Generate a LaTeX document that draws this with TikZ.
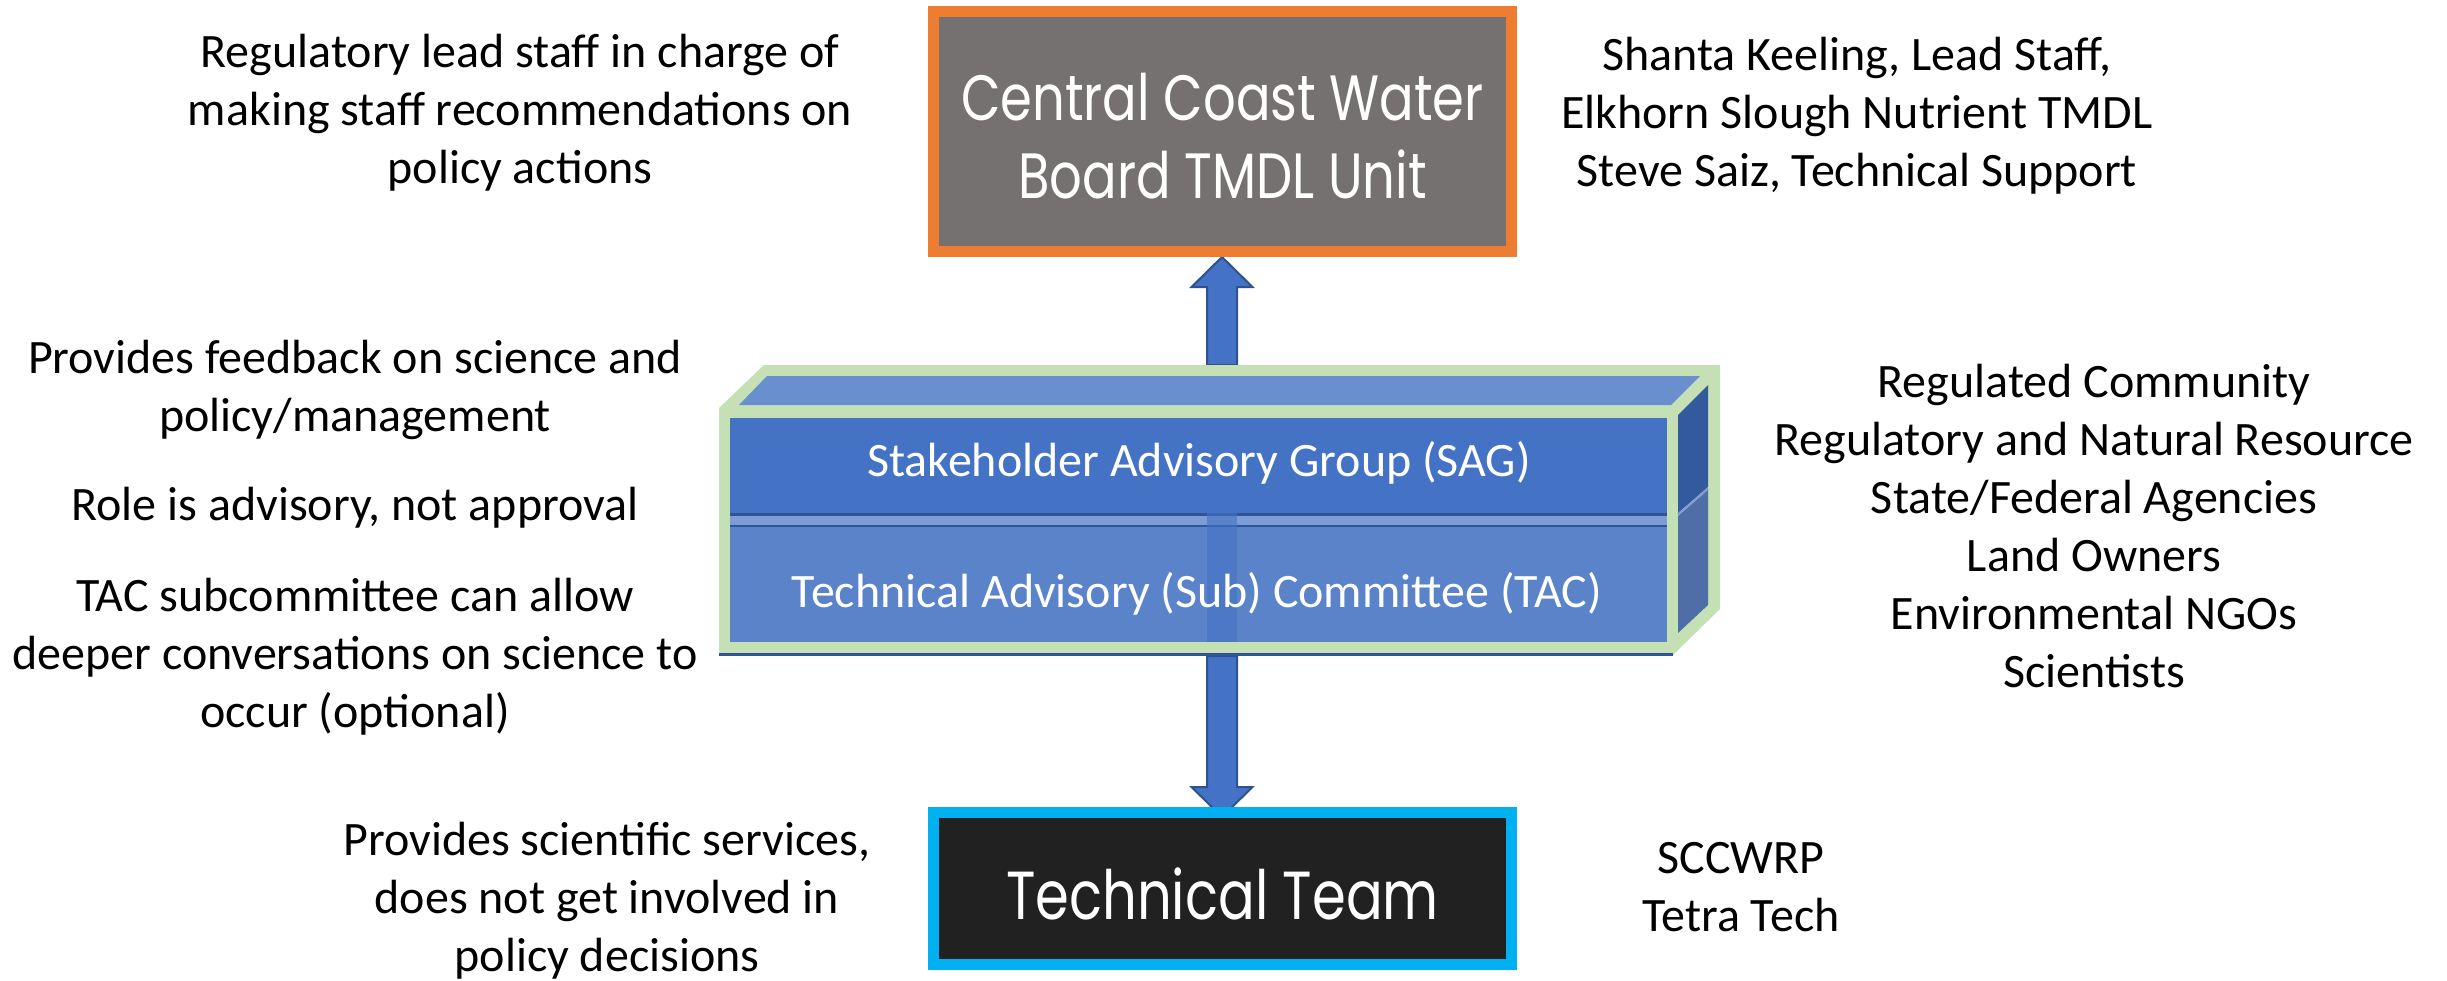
\documentclass[tikz,border=0pt]{standalone}
\usepackage{fontspec}
\setmainfont{Carlito}
\newfontfamily\titlefont[FakeStretch=0.8]{Poppins}
\usetikzlibrary{calc}
\pgfdeclarelayer{bg}
\pgfsetlayers{bg,main}
\definecolor{cOrange}{HTML}{ED7D31}
\definecolor{cGray}{HTML}{767171}
\definecolor{cCyan}{HTML}{00B0F0}
\definecolor{cDark}{HTML}{212121}
\definecolor{cBlue}{HTML}{4472C4}
\definecolor{cBlueLine}{HTML}{2F528F}
\definecolor{cGreen}{HTML}{C5E0B4}
\definecolor{cTop}{HTML}{6A8FCE}
\definecolor{cTac}{HTML}{5B83C9}
\definecolor{cBand}{HTML}{7C9DD5}
\definecolor{cDarkLine}{HTML}{2F5597}
\definecolor{cSideUp}{HTML}{345A9E}
\definecolor{cSideLow}{HTML}{4F6EA8}
\newcommand{\vblockarrow}[2]{%
  \path[blockarrow] let \p1=(#1), \p2=(#2), \n1={sign(\y2-\y1)} in
    (\x1-7.5pt,\y1) -- (\x1-7.5pt,\y2-\n1*15pt) -- (\x1-15.25pt,\y2-\n1*15pt)
    -- (\x1,\y2) -- (\x1+15.25pt,\y2-\n1*15pt) -- (\x1+7.5pt,\y2-\n1*15pt)
    -- (\x1+7.5pt,\y1) -- cycle;}
\begin{document}
\begin{tikzpicture}[x=0.5pt,y=-0.5pt,
  blockarrow/.style={fill=cBlue,draw=cBlueLine,line width=1pt,line join=miter},
  titlebox/.style={minimum width=289pt,line width=5.5pt,inner sep=0pt,text=white,align=center},
  sidetext/.style={align=center,font=\fontsize{24pt}{29pt}\selectfont,text=black,inner sep=0pt},
  facetext/.style={font=\fontsize{24pt}{29pt}\selectfont,text=white,inner sep=0pt}]
\useasboundingbox (0,0) rectangle (2447,980);

% ---- top box ----
\node[titlebox,minimum height=120pt,fill=cGray,draw=cOrange] (ccwb) at (1222.5,131.5) {};
\node[font=\titlefont\fontsize{32pt}{39pt}\selectfont,text=white,align=center,inner sep=0pt]
  (ccwbtext) at (1222.5,136) {Central Coast Water\\Board TMDL Unit};

% ---- 3D box ----
\fill[cGreen] (719,408) -- (764,365) -- (1720,365) -- (1720,609) -- (1673,655) -- (719,655) -- cycle;
\fill[cTop] (739,405) -- (767,376) -- (1700,376) -- (1671,405) -- cycle;
\fill[cSideUp] (1678,415) -- (1708,385) -- (1708,487) -- (1678,513) -- cycle;
\fill[cSideLow] (1678,516) -- (1708,490) -- (1708,605) -- (1678,633) -- cycle;
\draw[cBand,line width=1pt] (1678,514.5) -- (1708,488.5);
\fill[cBlue] (730,418) rectangle (1667,513);
\fill[cDarkLine] (730,513) rectangle (1667,516);
\fill[cBand] (730,516) rectangle (1667,525);
\fill[cDarkLine] (730,525) rectangle (1667,527);
\fill[cTac] (730,527) rectangle (1667,642);
\fill[cDarkLine] (719,653) rectangle (1673,656);
\fill[cBlue,opacity=0.6] (1207,513) rectangle (1237,642);
\node[facetext] (sag) at (1199,463) {Stakeholder Advisory Group (SAG)};
\node[facetext] (tac) at (1197,594) {Technical Advisory (Sub) Committee (TAC)};
\coordinate (boxtop) at (1222,365);
\coordinate (boxbot) at (1222,656);

% ---- bottom box ----
\node[titlebox,minimum height=76pt,fill=cDark,draw=cCyan] (tt) at (1222.5,888.5) {};
\node[font=\titlefont\fontsize{34pt}{41pt}\selectfont,text=white,inner sep=0pt]
  (tttext) at (1222.5,894) {Technical Team};
\coordinate (downtip) at ($(tt.north)+(0,10)$);

% ---- arrows (behind the boxes) ----
\begin{pgfonlayer}{bg}
\vblockarrow{boxtop}{ccwb.south}
\vblockarrow{boxbot}{downtip}
\end{pgfonlayer}

% ---- side texts ----
\node[sidetext] (lt) at (520,113) {Regulatory lead staff in charge of\\making staff recommendations on\\policy actions};
\node[sidetext] (rt) at (1857,116) {Shanta Keeling, Lead Staff,\\Elkhorn Slough Nutrient TMDL\\Steve Saiz, Technical Support};
\node[sidetext] (lm1) at (355,390) {Provides feedback on science and\\policy/management};
\node[sidetext] (lm2) at (355,508) {Role is advisory, not approval};
\node[sidetext] (lm3) at (355,657) {TAC subcommittee can allow\\deeper conversations on science to\\occur (optional)};
\node[sidetext] (rm) at (2094,526) {Regulated Community\\Regulatory and Natural Resource\\State/Federal Agencies\\Land Owners\\Environmental NGOs\\Scientists};
\node[sidetext] (lb) at (607,901) {Provides scientific services,\\does not get involved in\\policy decisions};
\node[sidetext] (rb) at (1741,887) {SCCWRP\\Tetra Tech};
\end{tikzpicture}
\end{document}
